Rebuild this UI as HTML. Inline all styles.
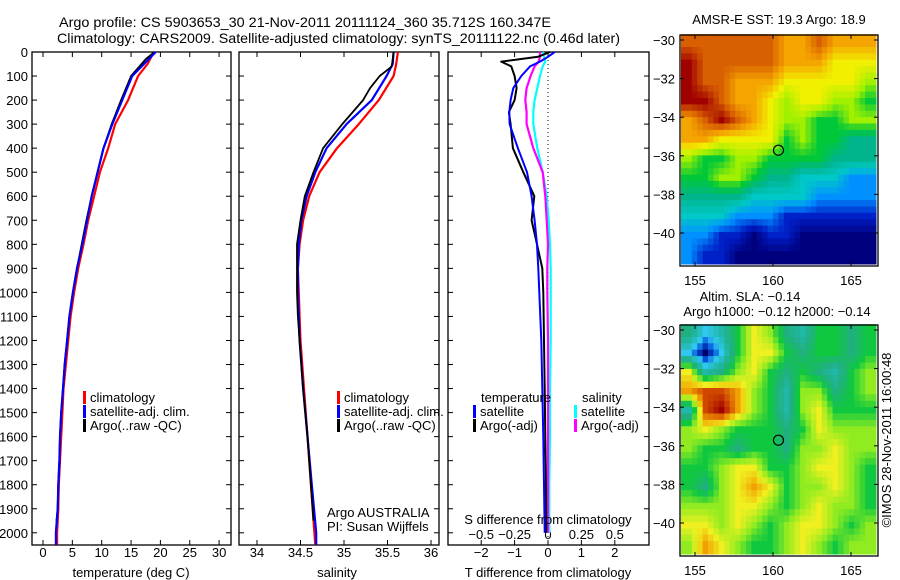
<!DOCTYPE html>
<html><head><meta charset="utf-8">
<style>
html,body{margin:0;padding:0;background:#fff;}
svg{display:block;font-family:"Liberation Sans",sans-serif;}
</style></head>
<body>
<svg id="fig" width="900" height="580" viewBox="0 0 900 580" xmlns="http://www.w3.org/2000/svg">
<text x="59" y="27" font-size="14" textLength="492" lengthAdjust="spacingAndGlyphs">Argo profile: CS 5903653_30 21-Nov-2011 20111124_360 35.712S 160.347E</text>
<text x="57" y="43" font-size="14" textLength="563" lengthAdjust="spacingAndGlyphs">Climatology: CARS2009. Satellite-adjusted climatology: synTS_20111122.nc (0.46d later)</text>
<g id="p1"></g>
<g id="p2"></g>
<g id="p3"></g>
<g id="m1"></g>
<g id="m2"></g>
<text transform="translate(891,440) rotate(-90)" font-size="13" text-anchor="middle">©IMOS 28-Nov-2011 16:00:48</text>
</svg>
<script>
// ---- data ----
const depthT = [0,50,100,200,300,400,500,600,700,800,900,1000,1100,1200,1300,1400,1500,1600,1700,1800,1900,2000,2050];
const tempClim = [18.9,17.8,16.2,14.5,12.3,11.1,9.7,8.7,7.7,6.9,6.0,5.3,4.7,4.3,3.9,3.5,3.3,3.1,2.9,2.7,2.6,2.4,2.4];
const tempSat  = [19.2,17.2,15.2,13.5,11.8,10.3,9.3,8.3,7.5,6.7,5.8,5.1,4.5,4.1,3.7,3.4,3.1,2.9,2.8,2.6,2.5,2.2,2.2];
const depthTA = [0,30,50,100,200,300,400,500,600,700,800,900,1000,1100,1200,1300,1400,1500,1600,1700,1800,1900,1950];
const tempArgo = [19.0,17.5,16.8,15.0,13.3,11.7,10.3,9.3,8.3,7.4,6.6,5.8,5.1,4.5,4.1,3.7,3.4,3.1,2.9,2.8,2.6,2.5,2.3];
const depthS = [0,50,100,200,300,400,500,600,700,800,900,1000,1100,1200,1400,1600,1800,2000,2050];
const salClim = [35.62,35.6,35.57,35.40,35.17,34.92,34.72,34.6,34.53,34.49,34.47,34.48,34.49,34.5,34.54,34.58,34.62,34.66,34.67];
const salSat  = [35.57,35.56,35.49,35.32,35.03,34.80,34.67,34.57,34.51,34.48,34.47,34.47,34.48,34.49,34.53,34.58,34.63,34.68,34.68];
const depthSA = [0,60,100,150,200,300,400,500,600,700,800,900,1000,1100,1200,1400,1600,1800,1950];
const salArgo = [35.57,35.55,35.41,35.30,35.22,34.98,34.76,34.65,34.55,34.50,34.46,34.46,34.46,34.47,34.49,34.53,34.58,34.62,34.65];
const depthD = [0,20,40,60,100,150,200,250,300,400,500,600,700,800,900,1000,1200,1400,1600,1800,2000];
const dTArgo = [0.06,-0.3,-1.4,-1.1,-1.0,-0.94,-1.0,-1.17,-1.12,-1.05,-0.74,-0.41,-0.49,-0.33,-0.17,-0.14,-0.12,-0.1,-0.08,-0.06,-0.05];
const dTSat  = [0.2,0.0,-0.24,-0.54,-0.8,-1.04,-1.12,-1.16,-1.15,-0.9,-0.63,-0.49,-0.4,-0.33,-0.29,-0.26,-0.2,-0.17,-0.14,-0.12,-0.1];
const dSArgo = [-0.06,-0.06,-0.07,-0.1,-0.13,-0.16,-0.17,-0.16,-0.16,-0.11,-0.04,-0.02,-0.01,0.0,-0.005,-0.005,0.0,0.0,0.0,0.0,0.0];
const dSSat  = [-0.04,-0.03,-0.02,-0.04,-0.06,-0.08,-0.1,-0.11,-0.11,-0.08,-0.04,-0.01,0.005,0.015,0.02,0.02,0.02,0.015,0.015,0.01,0.01];
const depthTicks = [0,100,200,300,400,500,600,700,800,900,1000,1100,1200,1300,1400,1500,1600,1700,1800,1900,2000];
const tempTicks = [0,5,10,15,20,25,30];
const salTicks = [34,34.5,35,35.5,36];
const salTickLabels = ["34","34.5","35","35.5","36"];
const dTTicks = [-2,-1,0,1,2];
const dSTicks = [-0.5,-0.25,0,0.25,0.5];
const dSTickLabels = ["\u22120.5","\u22120.25","0","0.25","0.5"];
const latTicks = [-30,-32,-34,-36,-38,-40];
const lonTicks = [155,160,165];
// map grids: rows from -30 (north) southwards, cols from 154.2E eastwards; colour index 0..10
const sstGrid = [
[9,9,9,9,9,9,8,8,9,8,8,8],
[10,9,9,9,9,9,8,8,8,7,7,7],
[10,9,9,8,8,8,7,7,7,7,7,6],
[10,10,9,8,8,7,6,7,7,6,6,5],
[8,9,10,9,8,7,6,6,5,5,6,6],
[8,8,7,7,7,7,5,6,5,5,4,4],
[6,5,5,6,6,5,5,5,5,4,4,4],
[5,5,6,6,5,4,4,3,3,3,2,2],
[4,4,4,4,3,3,3,3,2,2,2,2],
[3,3,3,2,2,2,1,1,1,1,1,1],
[2,2,1,1,0,1,1,0,0,0,0,0],
[2,1,1,0,0,0,0,0,0,0,0,0]];
const slaGrid = [
[4,2,3,5,7,6,4,3,5,5,4,5],
[2,0,2,5,7,7,5,4,5,5,4,5],
[7,3,4,6,7,5,4,5,4,3,5,6],
[8,9,9,8,6,5,3,6,6,4,5,6],
[3,9,10,8,6,5,3,6,7,5,5,5],
[6,7,6,5,5,5,4,5,7,6,6,6],
[6,5,5,4,5,5,4,6,6,7,6,6],
[5,5,6,7,7,5,5,6,7,7,6,5],
[5,4,6,7,8,7,5,6,6,7,6,5],
[6,6,6,7,7,6,5,6,7,6,6,5],
[7,7,6,7,6,5,6,7,7,6,5,6],
[6,8,7,6,5,5,6,7,6,5,6,6]];
const floatLon = 160.35, floatLat = -35.71;

// ---- helpers ----
const NS="http://www.w3.org/2000/svg";
function el(parent,tag,attrs,txt){const e=document.createElementNS(NS,tag);for(const k in attrs)e.setAttribute(k,attrs[k]);if(txt!==undefined)e.textContent=txt;parent.appendChild(e);return e;}
const yTop=52, yBot=545;
const yD = d => yTop + d*0.2404;

function frame(g,x0,x1,yt,yb){
  const r=el(g,'rect',{x:x0,y:yt,width:x1-x0,height:yb-yt,fill:'none',stroke:'#000','stroke-width':1.3});
  
  
}
function depthAxis(g,x0,x1,labels){
  depthTicks.forEach(d=>{
    const y=yD(d);
    el(g,'line',{x1:x0,y1:y,x2:x0+5,y2:y,stroke:'#000'});
    el(g,'line',{x1:x1,y1:y,x2:x1-5,y2:y,stroke:'#000'});
    if(labels){
      const t=el(g,'text',{x:x0-4,y:y+5,'font-size':13,'text-anchor':'end'},String(d));
      
      
    }
  });
}
function xTicks(g,vals,labs,fx,yLab,top){
  vals.forEach((v,i)=>{
    const x=fx(v);
    el(g,'line',{x1:x,y1:yBot,x2:x,y2:yBot-5,stroke:'#000'});
    if(top) el(g,'line',{x1:x,y1:yTop,x2:x,y2:yTop+5,stroke:'#000'});
    if(yLab!==null){
      const t=el(g,'text',{x:x,y:yLab,'font-size':13,'text-anchor':'middle'},labs[i]);
      
      
    }
  });
}
function line(g,xs,ds,fx,color,name,w){
  const pts=xs.map((v,i)=>fx(v).toFixed(1)+','+yD(ds[i]).toFixed(1)).join(' ');
  const p=el(g,'polyline',{points:pts,fill:'none',stroke:color,'stroke-width':w||2.2,'stroke-linejoin':'round'});
  
  
}
function legendItem(g,x,y,color,label,name){
  el(g,'rect',{x:x,y:y-11,width:3,height:13,fill:color});
  const t=el(g,'text',{x:x+7,y:y,'font-size':13},label);
  
  
}
function label(g,x,y,txt,name,anchor){
  const t=el(g,'text',{x:x,y:y,'font-size':13,'text-anchor':anchor||'start'},txt);
  
  
}

// ---- panel 1: temperature ----
(function(){
  const g=document.getElementById('p1');
  const fx=v=>43+v*5.87;
  frame(g,32,231,yTop,yBot);
  depthAxis(g,32,231,true);
  xTicks(g,tempTicks,tempTicks.map(String),fx,557,true);
  line(g,tempClim,depthT,fx,'#f00','temp-climatology-line');
  line(g,tempSat,depthT,fx,'#00f','temp-satellite-line');
  line(g,tempArgo,depthTA,fx,'#000','temp-argo-line',1.8);
  line(g,tempSat,depthT,fx,'#00f','temp-satellite-line-top',1.8);
  legendItem(g,83,402,'#f00','climatology','legend-climatology');
  legendItem(g,83,416,'#00f','satellite-adj. clim.','legend-satellite');
  legendItem(g,83,430,'#000','Argo(..raw -QC)','legend-argo');
  label(g,131,577,'temperature (deg C)','x-axis-title','middle');
})();

// ---- panel 2: salinity ----
(function(){
  const g=document.getElementById('p2');
  const fx=v=>257+(v-34)*87;
  frame(g,239,439,yTop,yBot);
  depthAxis(g,239,439,false);
  xTicks(g,salTicks,salTickLabels,fx,557,true);
  line(g,salClim,depthS,fx,'#f00','sal-climatology-line');
  line(g,salSat,depthS,fx,'#00f','sal-satellite-line');
  line(g,salArgo,depthSA,fx,'#000','sal-argo-line',1.8);
  legendItem(g,337,402,'#f00','climatology','legend-climatology');
  legendItem(g,337,416,'#00f','satellite-adj. clim.','legend-satellite');
  legendItem(g,337,430,'#000','Argo(..raw -QC)','legend-argo');
  label(g,327,517,'Argo AUSTRALIA','float-owner');
  label(g,327,531,'PI: Susan Wijffels','float-pi');
  label(g,337,577,'salinity','x-axis-title','middle');
})();

// ---- panel 3: differences ----
(function(){
  const g=document.getElementById('p3');
  const fT=v=>548+v*33.4;
  const fS=v=>548+v*133.6;
  frame(g,448,649,yTop,yBot);
  depthAxis(g,448,649,false);
  el(g,'line',{x1:548,y1:yTop,x2:548,y2:yBot,stroke:'#000','stroke-dasharray':'1,3'});
  xTicks(g,dTTicks,dTTicks.map(v=>v<0?'\u2212'+(-v):String(v)),fT,557,true);
  dSTicks.forEach((v,i)=>label(g,fS(v),539,dSTickLabels[i],'s-tick-label','middle'));
  line(g,dSSat,depthD,fS,'#0ff','dS-satellite-line');
  line(g,dSArgo,depthD,fS,'#f0f','dS-argo-line');
  line(g,dTArgo,depthD,fT,'#000','dT-argo-line',2);
  line(g,dTSat,depthD,fT,'#00f','dT-satellite-line',2);
  label(g,481,402,'temperature','legend-temperature-header');
  legendItem(g,473,416,'#00f','satellite','legend-t-satellite');
  legendItem(g,473,430,'#000','Argo(-adj)','legend-t-argo');
  label(g,582,402,'salinity','legend-salinity-header');
  legendItem(g,574,416,'#0ff','satellite','legend-s-satellite');
  legendItem(g,574,430,'#f0f','Argo(-adj)','legend-s-argo');
  label(g,548,524,'S difference from climatology','s-axis-title','middle');
  label(g,548,577,'T difference from climatology','t-axis-title','middle');
})();

// ---- maps ----
const cmap=[[0,0,127],[0,32,200],[0,144,255],[0,200,200],[0,180,140],[0,200,56],[160,240,0],[240,240,0],[245,165,0],[216,96,0],[160,0,0]];
const slacmap=[[0,0,110],[0,80,220],[48,200,240],[32,184,168],[32,176,128],[16,200,64],[144,236,32],[240,240,32],[240,160,0],[208,72,0],[160,0,0]];
function colorAt(cm,v){
  v=Math.max(0,Math.min(10,v));const i=Math.min(9,Math.floor(v)),f=v-i;
  const a=cm[i],b=cm[i+1];
  return 'rgb('+a.map((c,k)=>Math.round(c+(b[k]-c)*f)).join(',')+')';
}
function sample(grid,r,c){
  const nr=grid.length,nc=grid[0].length;
  r=Math.max(0,Math.min(nr-1,r));c=Math.max(0,Math.min(nc-1,c));
  const r0=Math.floor(r),c0=Math.floor(c),r1=Math.min(nr-1,r0+1),c1=Math.min(nc-1,c0+1),fr=r-r0,fc=c-c0;
  return grid[r0][c0]*(1-fr)*(1-fc)+grid[r0][c1]*(1-fr)*fc+grid[r1][c0]*fr*(1-fc)+grid[r1][c1]*fr*fc;
}
function drawMap(id,grid,colors,x0,x1,yt,yb,lat30y,latScale,lonLab,name){
  const g=document.getElementById(id);
  const fx=lon=>695+(lon-155)*15.6;
  const fy=lat=>lat30y+(-30-lat)*latScale;
  const lon0=154.1, lon1=166.6, lat0=-29.7, lat1=-41.6;
  const nr=grid.length, nc=grid[0].length, sub=3;
  const dlon=(lon1-lon0)/(nc*sub), dlat=(lat0-lat1)/(nr*sub);
  for(let r=0;r<nr*sub;r++)for(let c=0;c<nc*sub;c++){
    const v=sample(grid,(r+0.5)/sub-0.5,(c+0.5)/sub-0.5);
    const xa=fx(lon0+c*dlon), xb=fx(lon0+(c+1)*dlon);
    const ya=fy(lat0-r*dlat), yb2=fy(lat0-(r+1)*dlat);
    const cell=el(g,'rect',{x:xa.toFixed(1),y:ya.toFixed(1),width:(xb-xa+0.6).toFixed(1),height:(yb2-ya+0.6).toFixed(1),fill:colorAt(colors,v)});
    
    
  }
  const fr=el(g,'rect',{x:x0,y:yt,width:x1-x0,height:yb-yt,fill:'none',stroke:'#000','stroke-width':1.3});
  
  
  latTicks.forEach(l=>{
    const y=fy(l);
    el(g,'line',{x1:x0,y1:y,x2:x0+4,y2:y,stroke:'#000'});
    el(g,'line',{x1:x1,y1:y,x2:x1-4,y2:y,stroke:'#000'});
    label(g,x0-5,y+5,l<0?'\u2212'+(-l):String(l),'lat-tick-label','end');
  });
  lonTicks.forEach(l=>{
    const x=fx(l);
    el(g,'line',{x1:x,y1:yb,x2:x,y2:yb-4,stroke:'#000'});
    el(g,'line',{x1:x,y1:yt,x2:x,y2:yt+4,stroke:'#000'});
    label(g,x,lonLab,String(l),'lon-tick-label','middle');
  });
  const c=el(g,'circle',{cx:fx(floatLon),cy:fy(floatLat),r:5,fill:'none',stroke:'#000','stroke-width':1.2});
  
  
}
drawMap('m1',sstGrid,cmap,680,878,35,266,40,19.3,285,'sst-map');
drawMap('m2',slaGrid,slacmap,680,878,325,556,330,19.3,575,'sla-map');
(function(){
  const g=document.getElementById('m1');
  label(g,779,24,'AMSR-E SST: 19.3 Argo: 18.9','sst-map-title','middle');
  const g2=document.getElementById('m2');
  label(g2,750,301,'Altim. SLA: \u22120.14','sla-map-title','middle');
  label(g2,777,316,'Argo h1000: \u22120.12 h2000: \u22120.14','sla-map-subtitle','middle');
})();
</script>
</body></html>
